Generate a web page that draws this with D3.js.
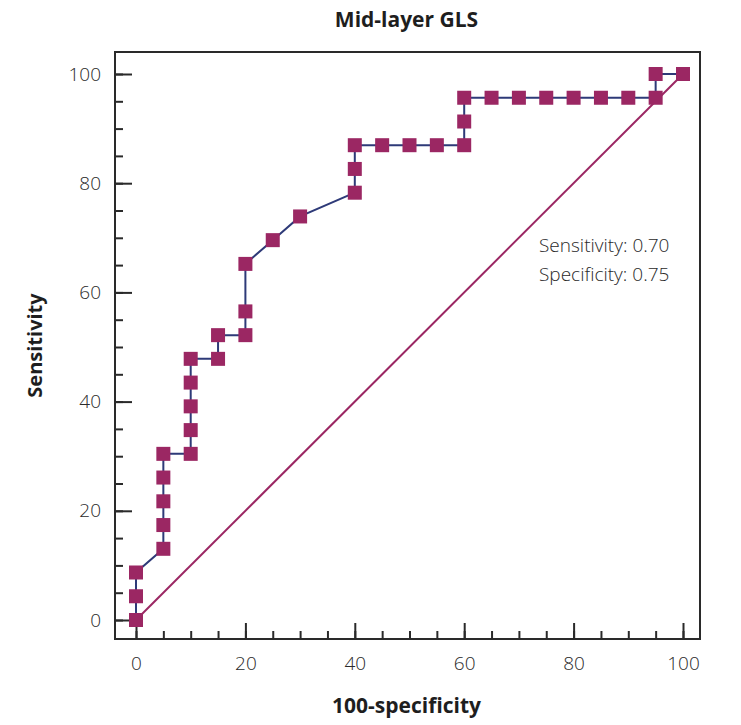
<!DOCTYPE html>
<html>
<head>
<meta charset="utf-8">
<script src="https://cdn.jsdelivr.net/npm/d3@7/dist/d3.min.js"></script>
<style>
  body { margin: 0; background: #fff; }
  svg { display: block; }
  text { font-family: "Open Sans", "DejaVu Sans", sans-serif; }
</style>
</head>
<body>
<svg id="chart" width="741" height="725"></svg>
<script>
// ---- data ----
const title = "Mid-layer GLS";
const xLabel = "100-specificity";
const yLabel = "Sensitivity";
const fpr = [0, 0, 0, 5, 5, 5, 5, 5, 10, 10, 10, 10, 10, 15, 15, 20, 20, 20, 25, 30, 40, 40, 40, 45, 50, 55, 60, 60, 60, 65, 70, 75, 80, 85, 90, 95, 95, 100];
const tpr = [0, 4.35, 8.70, 13.04, 17.39, 21.74, 26.09, 30.43, 30.43, 34.78, 39.13, 43.48, 47.83, 47.83, 52.17, 52.17, 56.52, 65.22, 69.57, 73.91, 78.26, 82.61, 86.96, 86.96, 86.96, 86.96, 86.96, 91.30, 95.65, 95.65, 95.65, 95.65, 95.65, 95.65, 95.65, 95.65, 100, 100];
const refLineX = [0, 100];
const refLineY = [0, 100];
const majorTicks = [0, 20, 40, 60, 80, 100];
const minorTicks = d3.range(0, 101, 5);
const annotation = ["Sensitivity: 0.70", "Specificity: 0.75"];

// ---- layout ----
const svg = d3.select("#chart");
const frame = { left: 115, right: 700, top: 52, bottom: 639 };
const x = d3.scaleLinear().domain([0, 100]).range([136, 683]);
const y = d3.scaleLinear().domain([0, 100]).range([620, 74]);

const ink = "#2a2a2a";
const markColor = "#9b2763";
const lineColor = "#2e3a78";

// frame
svg.append("rect")
  .attr("x", frame.left).attr("y", frame.top)
  .attr("width", frame.right - frame.left).attr("height", frame.bottom - frame.top)
  .attr("fill", "none").attr("stroke", ink).attr("stroke-width", 2);

// y minor ticks
const yMinor = svg.append("g").attr("transform", `translate(${frame.left},0)`)
  .call(d3.axisLeft(y).tickValues(minorTicks).tickSizeInner(-8).tickSizeOuter(0).tickFormat(""));
// y major ticks
const yMajor = svg.append("g").attr("transform", `translate(${frame.left},0)`)
  .call(d3.axisLeft(y).tickValues(majorTicks).tickSizeInner(-17).tickSizeOuter(0).tickPadding(14).tickFormat(d3.format("d")));
// x minor ticks
const xMinor = svg.append("g").attr("transform", `translate(0,${frame.bottom})`)
  .call(d3.axisBottom(x).tickValues(minorTicks).tickSizeInner(-8).tickSizeOuter(0).tickFormat(""));
// x major
const xMajor = svg.append("g").attr("transform", `translate(0,${frame.bottom})`)
  .call(d3.axisBottom(x).tickValues(majorTicks).tickSizeInner(-16).tickSizeOuter(0).tickPadding(18).tickFormat(d3.format("d")));

[yMinor, yMajor, xMinor, xMajor].forEach(g => {
  g.select(".domain").remove();
  g.selectAll("line").attr("stroke", ink).attr("stroke-width", 2);
  g.selectAll("text").attr("fill", ink).style("font-size", "19px").style("font-weight", 300).attr("font-family", null);
});

// diagonal reference
svg.append("line")
  .attr("x1", x(refLineX[0])).attr("y1", y(refLineY[0]))
  .attr("x2", x(refLineX[1])).attr("y2", y(refLineY[1]))
  .attr("stroke", markColor).attr("stroke-width", 2);

// ROC line
const pts = fpr.map((v, i) => [v, tpr[i]]);
svg.append("path")
  .datum(pts)
  .attr("fill", "none").attr("stroke", lineColor).attr("stroke-width", 2)
  .attr("d", d3.line().x(d => x(d[0])).y(d => y(d[1])));

// markers
const ms = 14;
svg.append("g").selectAll("rect").data(pts).join("rect")
  .attr("x", d => x(d[0]) - ms / 2).attr("y", d => y(d[1]) - ms / 2)
  .attr("width", ms).attr("height", ms)
  .attr("fill", markColor);

// annotation
svg.append("g").selectAll("text").data(annotation).join("text")
  .attr("x", 539).attr("y", (d, i) => 252 + i * 29)
  .attr("fill", ink).style("font-size", "19px").style("font-weight", 300)
  .text(d => d);

// title
svg.append("text")
  .attr("x", (frame.left + frame.right) / 2 - 1).attr("y", 27)
  .attr("text-anchor", "middle").attr("fill", "#1e1e1e")
  .style("font-size", "21px").style("font-weight", 700)
  .text(title);

// axis labels
svg.append("text")
  .attr("x", (frame.left + frame.right) / 2 - 1).attr("y", 713)
  .attr("text-anchor", "middle").attr("fill", "#1e1e1e")
  .style("font-size", "21px").style("font-weight", 700)
  .text(xLabel);

svg.append("text")
  .attr("transform", `translate(42,${(frame.top + frame.bottom) / 2}) rotate(-90)`)
  .attr("text-anchor", "middle").attr("fill", "#1e1e1e")
  .style("font-size", "20px").style("font-weight", 700)
  .text(yLabel);
</script>
</body>
</html>
